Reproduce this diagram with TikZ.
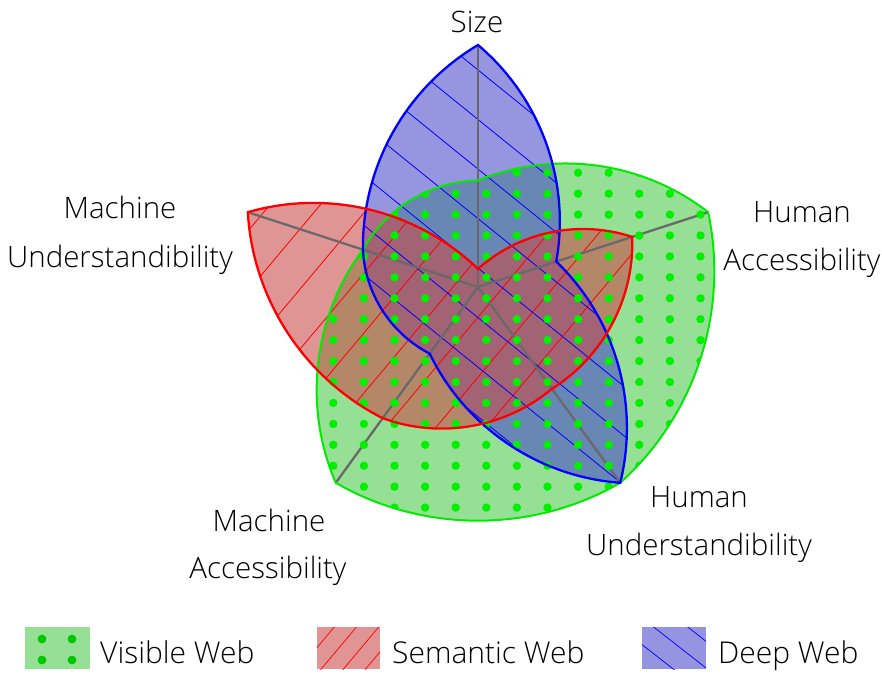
\documentclass[tikz,border=0pt]{standalone}
\usepackage{fontspec}
\IfFontExistsTF{Open Sans Light}{\setmainfont{Open Sans Light}}{%
  \IfFontExistsTF{Lato Light}{\setmainfont{Lato Light}}{\setmainfont{Open Sans}}}
\usetikzlibrary{calc}

\definecolor{visbase}{RGB}{77,202,77}
\definecolor{sembase}{RGB}{202,74,74}
\definecolor{deepbase}{RGB}{74,74,202}
\definecolor{visline}{RGB}{0,235,0}
\definecolor{visdot}{RGB}{0,240,0}
\definecolor{visdotkey}{RGB}{0,200,0}
\definecolor{semline}{RGB}{255,0,0}
\definecolor{deepline}{RGB}{0,0,255}
\definecolor{axisgray}{RGB}{105,105,105}
\definecolor{viskey}{RGB}{150,224,150}
\definecolor{semkey}{RGB}{224,148,148}
\definecolor{deepkey}{RGB}{148,148,224}

\begin{document}
\begin{tikzpicture}[x=1pt,y=1pt,
  arcedge/.style={bend left=30,looseness=0.91},
  axisline/.style={draw=axisgray,line width=2.3pt},
  label/.style={inner sep=0pt,anchor=base,font=\fontsize{29.5}{36}\selectfont},
  keytext/.style={inner sep=0pt,anchor=base west,font=\fontsize{30}{36}\selectfont},
  area/.style={fill opacity=0.59},
  vis outline/.style={insert path={(v-s) to[arcedge] (v-ha) to[arcedge] (v-hu)
      to[arcedge] (v-ma) to[arcedge] (v-mu) to[arcedge] cycle}},
  sem outline/.style={insert path={(s-s) to[arcedge] (s-ha) to[arcedge] (s-hu)
      to[arcedge] (s-ma) to[arcedge] (s-mu) to[arcedge] cycle}},
  deep outline/.style={insert path={(d-s) to[arcedge] (d-ha) to[arcedge] (d-hu)
      to[arcedge] (d-ma) to[arcedge] (d-mu) to[arcedge] cycle}},
]
% chart centre at the origin, one unit = one point
\useasboundingbox (-478,287) rectangle (404,-386);
\def\R{242}

% radar vertices: size, human access., human underst., machine access., machine underst.
\newcommand\radarpoints[6]{%
  \coordinate (#1-s)  at (90:{\R*#2});
  \coordinate (#1-ha) at (18:{\R*#3});
  \coordinate (#1-hu) at (-54:{\R*#4});
  \coordinate (#1-ma) at (-126:{\R*#5});
  \coordinate (#1-mu) at (162:{\R*#6});}
\radarpoints{v}{0.44}{1}{1}{1}{0.5}
\radarpoints{s}{0.075}{0.67}{0.52}{0.67}{1}
\radarpoints{d}{1}{0.34}{1}{0.34}{0.5}

\coordinate (o) at (0,0);
\coordinate (ax-s)  at (90:\R);
\coordinate (ax-ha) at (18:\R);
\coordinate (ax-hu) at (-54:\R);
\coordinate (ax-ma) at (-126:\R);
\coordinate (ax-mu) at (162:\R);

% translucent areas
\fill[visbase,area,vis outline];
\fill[deepbase,area,deep outline];
\fill[sembase,area,sem outline];

% hatching
\begin{scope}
  \clip[sem outline];
  \begin{scope}[rotate=50]
    \foreach \m in {-12,...,12}
      \draw[semline,line width=0.8pt] (-520,{19.2+38.6*\m}) -- (520,{19.2+38.6*\m});
  \end{scope}
\end{scope}
\begin{scope}
  \clip[deep outline];
  \begin{scope}[rotate=-39]
    \foreach \m in {-12,...,12}
      \draw[deepline,line width=0.8pt] (-520,{14.7+38.5*\m}) -- (520,{14.7+38.5*\m});
  \end{scope}
\end{scope}

% axes
\foreach \a in {s,ha,hu,ma,mu}
  \draw[axisline] (o) -- (ax-\a);

% dotted pattern of the visible web
\begin{scope}
  \clip[vis outline];
  \foreach \i in {-1,...,13}
    \foreach \j in {-1,...,18}
      \fill[visdot] ({-144.7+30.6*\i},{114.3-20.93*\j}) circle (4.2);
\end{scope}

% outlines
\draw[visline,line width=2pt,line join=miter,vis outline];
\draw[deepline,line width=2.3pt,line join=miter,deep outline];
\draw[semline,line width=2.3pt,line join=miter,sem outline];

% axis labels
\node[label] (l-s) at (-1,255) {Size};
\node[label] (l-mu1) at (-358,69) {Machine};
\node[label] (l-mu2) at (-358,20) {Understandibility};
\node[label] (l-ha1) at (324,65) {Human};
\node[label] (l-ha2) at (324,17) {Accessibility};
\node[label] (l-hu1) at (221,-220) {Human};
\node[label] (l-hu2) at (221,-268) {Understandibility};
\node[label] (l-ma1) at (-209,-244) {Machine};
\node[label] (l-ma2) at (-210,-291) {Accessibility};

% legend
\fill[viskey] (-453,-340) rectangle (-388,-382);
\foreach \p in {(-436,-352),(-406,-352),(-436,-373),(-406,-373)}
  \fill[visdotkey] \p circle (4.4);
\node[keytext] (k-v) at (-378,-376) {Visible Web};

\fill[semkey] (-161,-340) rectangle (-98,-382);
\begin{scope}
  \clip (-161,-340) rectangle (-98,-382);
  \begin{scope}[shift={(-130,-361)},rotate=50]
    \foreach \m in {-4,...,4}
      \draw[semline,line width=0.7pt] (-60,{7+17*\m}) -- (60,{7+17*\m});
  \end{scope}
\end{scope}
\node[keytext] (k-s) at (-86,-376) {Semantic Web};

\fill[deepkey] (164,-340) rectangle (228,-382);
\begin{scope}
  \clip (164,-340) rectangle (228,-382);
  \begin{scope}[shift={(196,-361)},rotate=-38]
    \foreach \m in {-4,...,4}
      \draw[deepline,line width=0.7pt] (-60,{4+21*\m}) -- (60,{4+21*\m});
  \end{scope}
\end{scope}
\node[keytext] (k-d) at (240,-376) {Deep Web};
\end{tikzpicture}
\end{document}
